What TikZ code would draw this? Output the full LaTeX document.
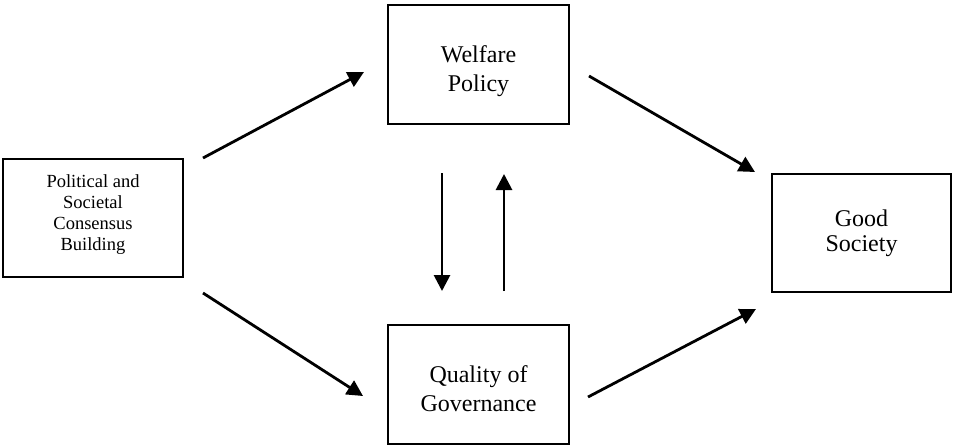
\documentclass[tikz,border=0pt]{standalone}
\usepackage{fontspec}
\setmainfont{Liberation Serif}
\usetikzlibrary{arrows.meta}
\begin{document}
\begin{tikzpicture}[x=1pt,y=-1pt,
  box/.style={draw=black,line width=2pt,rectangle,inner sep=0pt},
  bigtext/.style={align=center,inner sep=0pt,font=\fontsize{24pt}{29pt}\selectfont},
  tighttext/.style={align=center,inner sep=0pt,font=\fontsize{24pt}{25pt}\selectfont},
  smalltext/.style={align=center,inner sep=0pt,font=\fontsize{18.5pt}{21pt}\selectfont},
  conn/.style={line width=2.8pt,-{Triangle[length=16pt,width=16pt]}}]
\useasboundingbox (0,0) rectangle (953,445);
% boxes
\node[box,minimum width=180pt,minimum height=118pt] (pcb) at (93,218) {};
\node[box,minimum width=181pt,minimum height=119pt] (wp) at (478.5,64.5) {};
\node[box,minimum width=181pt,minimum height=119pt] (qg) at (478.5,384.5) {};
\node[box,minimum width=179pt,minimum height=118pt] (gs) at (861.5,233) {};
% texts
\node[smalltext] (pcbt) at (93,214.2) {Political and\\Societal\\Consensus\\Building};
\node[bigtext] (wpt) at (478.5,71) {Welfare\\Policy};
\node[bigtext] (qgt) at (478.5,389) {Quality of\\Governance};
\node[tighttext] (gst) at (861.5,233) {Good\\Society};
% connector end points
\coordinate (a1s) at (203,158);
\coordinate (a1e) at (364,72);
\coordinate (a2s) at (203,293);
\coordinate (a2e) at (363,396);
\coordinate (a3s) at (589,76);
\coordinate (a3e) at (755,172);
\coordinate (a4s) at (588,397);
\coordinate (a4e) at (756,309);
\coordinate (dns) at (442,173);
\coordinate (dne) at (442,291);
\coordinate (ups) at (504,291);
\coordinate (upe) at (504,174);
\draw[conn] (a1s) -- (a1e);
\draw[conn] (a2s) -- (a2e);
\draw[conn] (a3s) -- (a3e);
\draw[conn] (a4s) -- (a4e);
\draw[conn] (dns) -- (dne);
\draw[conn] (ups) -- (upe);
\end{tikzpicture}
\end{document}
